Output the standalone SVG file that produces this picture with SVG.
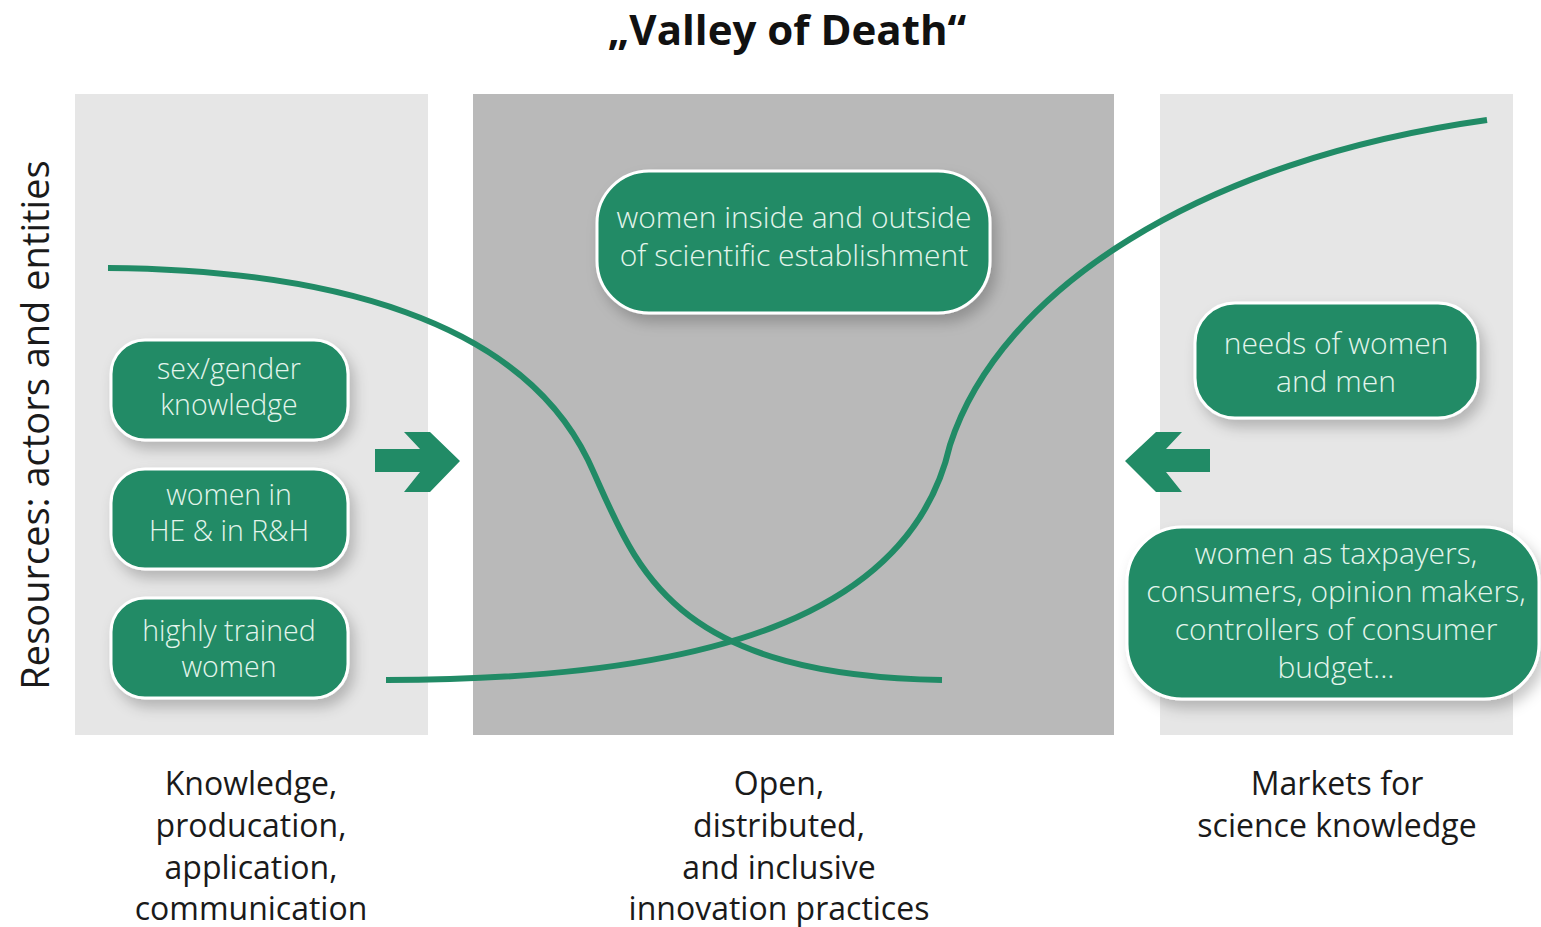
<svg xmlns="http://www.w3.org/2000/svg" width="1541" height="927" viewBox="0 0 1541 927">
<defs>
<filter id="sh" x="-20%" y="-20%" width="150%" height="160%">
<feDropShadow dx="5" dy="8" stdDeviation="7" flood-color="#000" flood-opacity="0.22"/>
</filter>
</defs>
<style>
.box{fill:#218b66;stroke:#ffffff;stroke-width:3;filter:url(#sh)}
.bt{font-family:"Open Sans","DejaVu Sans",sans-serif;font-size:30px;font-weight:300;fill:#e3f5ec;text-anchor:middle}
.bts{font-size:28.5px}
.lbl{font-family:"Open Sans","DejaVu Sans",sans-serif;font-size:32px;fill:#1a1a1a;text-anchor:middle}
.curve{fill:none;stroke:#218b66;stroke-width:6;stroke-linecap:butt}
.arr{fill:#218b66}
</style>
<rect width="1541" height="927" fill="#ffffff"/>
<g id="panels">
<rect x="75" y="94" width="353" height="641" fill="#e6e6e6"/>
<rect x="473" y="94" width="641" height="641" fill="#b9b9b9"/>
<rect x="1160" y="94" width="353" height="641" fill="#e6e6e6"/>
</g>
<text x="787" y="45" font-family="'Open Sans','DejaVu Sans',sans-serif" font-size="42" font-weight="bold" fill="#111" text-anchor="middle">„Valley of Death“</text>
<text transform="translate(49,425) rotate(-90)" font-family="'Open Sans','DejaVu Sans',sans-serif" font-size="38" fill="#1a1a1a" text-anchor="middle">Resources: actors and entities</text>
<g id="connectors">
<path class="curve" d="M108,268 C330,270 520,320 588,460 C635,560 660,675 942,680"/>
<path class="curve" d="M386,680 C700,680 910,620 950,445 C1000,290 1200,160 1487,120"/>
<path id="arrow-right" class="arr" d="M375,449 L420,449 L404,432 L430,432 L460,461 L430,492 L404,492 L420,472 L375,472 Z"/>
<path id="arrow-left" class="arr" d="M1210,449 L1166,449 L1182,432 L1156,432 L1125,461 L1156,492 L1182,492 L1166,472 L1210,472 Z"/>
</g>
<g id="node-sexgender">
<rect class="box" x="111" y="340" width="237" height="100" rx="34"/>
<text class="bt bts" x="229" y="379">sex/gender</text>
<text class="bt bts" x="229" y="415">knowledge</text>
</g>
<g id="node-women-he">
<rect class="box" x="111" y="469" width="237" height="100" rx="34"/>
<text class="bt bts" x="229" y="505">women in</text>
<text class="bt bts" x="229" y="541">HE &amp; in R&amp;H</text>
</g>
<g id="node-highly-trained">
<rect class="box" x="111" y="598" width="237" height="100" rx="34"/>
<text class="bt bts" x="229" y="641">highly trained</text>
<text class="bt bts" x="229" y="677">women</text>
</g>
<g id="node-inside-outside">
<rect class="box" x="597" y="171" width="393" height="142" rx="52"/>
<text class="bt" x="794" y="228">women inside and outside</text>
<text class="bt" x="794" y="266">of scientific establishment</text>
</g>
<g id="node-needs">
<rect class="box" x="1195" y="303" width="283" height="115" rx="40"/>
<text class="bt" x="1336" y="354">needs of women</text>
<text class="bt" x="1336" y="392">and men</text>
</g>
<g id="node-taxpayers">
<rect class="box" x="1127" y="527" width="412" height="172" rx="55"/>
<text class="bt" x="1336" y="564">women as taxpayers,</text>
<text class="bt" x="1336" y="602">consumers, opinion makers,</text>
<text class="bt" x="1336" y="640">controllers of consumer</text>
<text class="bt" x="1336" y="678">budget...</text>
</g>
<g id="labels">
<text class="lbl" x="251" y="795">Knowledge,</text>
<text class="lbl" x="251" y="837">producation,</text>
<text class="lbl" x="251" y="879">application,</text>
<text class="lbl" x="251" y="920">communication</text>
<text class="lbl" x="779" y="795">Open,</text>
<text class="lbl" x="779" y="837">distributed,</text>
<text class="lbl" x="779" y="879">and inclusive</text>
<text class="lbl" x="779" y="920">innovation practices</text>
<text class="lbl" x="1337" y="795">Markets for</text>
<text class="lbl" x="1337" y="837">science knowledge</text>
</g>
</svg>
